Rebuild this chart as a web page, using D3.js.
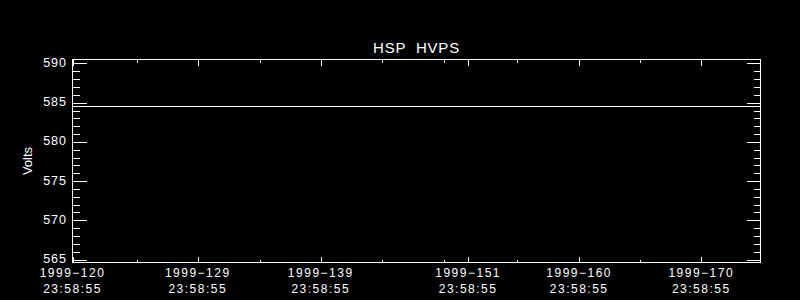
<!DOCTYPE html>
<html>
<head>
<meta charset="utf-8">
<script src="https://cdn.jsdelivr.net/npm/d3@7"></script>
<style>
  body { margin: 0; background: #000; }
  svg text { font-family: "Liberation Sans", Arial, sans-serif; fill: #fff; }
</style>
</head>
<body>
<svg id="chart" width="800" height="300"></svg>
<script>
// data: day-of-year 1999 (fractional) vs HVPS voltage
var times = [120.0, 125.0, 130.0, 135.0, 140.0, 145.0, 150.0, 155.0, 160.0, 165.0, 170.0, 174.7];
var volts = [584.6, 584.6, 584.6, 584.6, 584.6, 584.6, 584.6, 584.6, 584.6, 584.6, 584.6, 584.6];

// x axis ticks as drawn (positions in day-of-year)
var xTickDays = [120.0, 129.96, 139.74, 151.46, 160.29, 170.0];
var xTickLabels = ["1999\u2212120", "1999\u2212129", "1999\u2212139", "1999\u2212151", "1999\u2212160", "1999\u2212170"];
var xTickTimes = ["23:58:55", "23:58:55", "23:58:55", "23:58:55", "23:58:55", "23:58:55"];
var xMinorDays = [125.09, 134.90, 144.63, 149.53, 155.33, 165.12];

var yTicks = [565, 570, 575, 580, 585, 590];
var yMinor = [566, 567, 568, 569, 571, 572, 573, 574, 576, 577, 578, 579,
              581, 582, 583, 584, 586, 587, 588, 589];

var title = "HSP  HVPS";
var yTitle = "Volts";

var svg = d3.select("#chart");
svg.append("rect").attr("width", 800).attr("height", 300).attr("fill", "#000");

var pLeft = 72.5, pRight = 760.5, pTop = 59.5, pBottom = 262.5;

var x = d3.scaleLinear().domain([120.0, 174.71]).range([pLeft, pRight]);
var y = d3.scaleLinear().domain([564.62, 590.51]).range([pBottom, pTop]);

function px(d) { return Math.round(x(d)) + 0.5; }
function py(d) { return Math.round(y(d)) + 0.5; }

var g = svg.append("g").attr("stroke", "#fff").attr("stroke-width", 1).attr("shape-rendering", "crispEdges");

// frame
g.append("rect").attr("x", pLeft).attr("y", pTop)
  .attr("width", pRight - pLeft).attr("height", pBottom - pTop).attr("fill", "none");

// y ticks, left and right
function yTickLines(data, x0, len) {
  g.append("g").selectAll("line").data(data).enter().append("line")
    .attr("x1", x0).attr("x2", x0 + len).attr("y1", py).attr("y2", py);
}
yTickLines(yTicks, pLeft, 14);
yTickLines(yTicks, pRight, -14);
yTickLines(yMinor, pLeft, 7);
yTickLines(yMinor, pRight, -7);

// x ticks, bottom and top
function xTickLines(data, y0, len) {
  g.append("g").selectAll("line").data(data).enter().append("line")
    .attr("x1", px).attr("x2", px).attr("y1", y0).attr("y2", y0 + len);
}
xTickLines(xTickDays, pBottom, -6);
xTickLines(xTickDays, pTop, 6);
xTickLines(xMinorDays, pBottom, -3);
xTickLines(xMinorDays, pTop, 3);

// y tick labels
svg.selectAll("text.ylab").data(yTicks).enter().append("text")
  .attr("class", "ylab")
  .attr("x", 67).attr("y", function(d) { return y(d) + 3.5; })
  .attr("text-anchor", "end").attr("font-size", 12.5).attr("letter-spacing", 1)
  .text(function(d) { return d; });

// x tick labels (two lines)
xTickDays.forEach(function(d, i) {
  var t = svg.append("text").attr("text-anchor", "middle").attr("font-size", 12).attr("letter-spacing", 1.5);
  t.append("tspan").attr("x", x(d)).attr("y", 277).text(xTickLabels[i]);
  t.append("tspan").attr("x", x(d)).attr("y", 293).text(xTickTimes[i]);
});

// data line
var line = d3.line().x(function(d, i) { return x(times[i]); }).y(py);
svg.append("path").datum(volts).attr("d", line)
  .attr("fill", "none").attr("stroke", "#fff").attr("stroke-width", 1).attr("shape-rendering", "crispEdges");

// titles
svg.append("text").attr("x", (pLeft + pRight) / 2).attr("y", 53)
  .attr("text-anchor", "middle").attr("font-size", 15).attr("letter-spacing", 0.8)
  .style("white-space", "pre").text(title);

svg.append("text").attr("transform", "translate(32," + ((pTop + pBottom) / 2) + ") rotate(-90)")
  .attr("text-anchor", "middle").attr("font-size", 13).text(yTitle);
</script>
</body>
</html>
